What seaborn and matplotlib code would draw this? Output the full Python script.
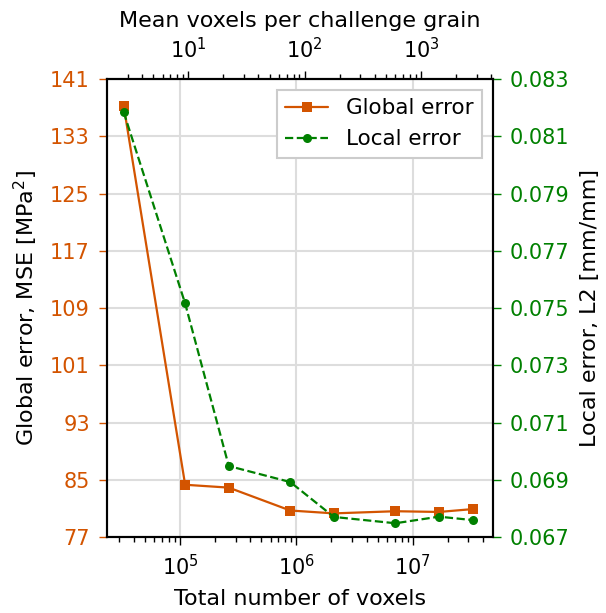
import numpy as np
import pandas as pd
import matplotlib
matplotlib.use("Agg")
import matplotlib.pyplot as plt
import seaborn as sns

total_voxels = [32768, 110592, 262144, 884736, 2097152, 7077888, 16777216, 32768000]
global_error = [137.3, 84.3, 83.9, 80.7, 80.3, 80.6, 80.5, 80.9]
local_error = [0.08185, 0.07516, 0.06948, 0.06892, 0.0677, 0.06748, 0.06771, 0.06759]
n_grains = 11800

left_ticks = [77, 85, 93, 101, 109, 117, 125, 133, 141]
right_ticks = [0.067, 0.069, 0.071, 0.073, 0.075, 0.077, 0.079, 0.081, 0.083]
top_ticks = [10, 100, 1000]

orange = "#d35400"
green = "#008000"

sns.set_theme(style="whitegrid")
plt.rcParams['font.family'] = ['DejaVu Sans']
plt.rcParams['text.color'] = 'black'
plt.rcParams['axes.labelcolor'] = 'black'
plt.rcParams['xtick.color'] = 'black'
plt.rcParams['ytick.color'] = 'black'

FS = 15
LFS = 16
PAD = 6.5
LPAD = 7

df = pd.DataFrame({"voxels": total_voxels, "glob": global_error, "loc": local_error})

fig = plt.figure(figsize=(6.06, 6.13), dpi=100)
ax = fig.add_axes([0.177, 0.124, 0.636, 0.747])
ax2 = ax.twinx()

sns.lineplot(data=df, x="voxels", y="glob", ax=ax, color=orange, marker="s",
             markersize=6.5, markeredgewidth=0, linewidth=1.6, label="Global error", legend=False)
sns.lineplot(data=df, x="voxels", y="loc", ax=ax2, color=green, marker="o",
             markersize=6.5, markeredgewidth=0, linewidth=1.6, linestyle="--", label="Local error", legend=False)

ax.set_xscale("log")
ax.set_xlim(2.37e4, 4.85e7)
ax.set_ylim(77, 141)
ax2.set_ylim(0.067, 0.083)
ax.set_yticks(left_ticks)
ax.set_yticklabels([str(t) for t in left_ticks])
ax2.set_yticks(right_ticks)
ax2.set_yticklabels([f"{t:.3f}" for t in right_ticks])

ax.grid(True, which="major", color="#dddddd", linewidth=1.5)
ax.grid(False, which="minor")
ax2.grid(False)

for a in (ax, ax2):
    for s in a.spines.values():
        s.set_color("black")
        s.set_linewidth(1.5)

ax.tick_params(axis="y", colors=orange, labelsize=FS, length=6, width=1, direction="out", left=True, pad=PAD)
ax.tick_params(axis="x", labelsize=FS, length=6, width=1, direction="out", bottom=True, which="major", colors="black", pad=PAD)
ax.tick_params(axis="x", which="minor", length=3.5, width=1, bottom=True, colors="black")
ax2.tick_params(axis="y", colors=green, labelsize=FS, length=6, width=1, direction="out", right=True, pad=PAD)

ax.set_xlabel("Total number of voxels", fontsize=LFS, color="black", labelpad=LPAD)
ax.set_ylabel("Global error, MSE [MPa$^2$]", fontsize=LFS, color="black", labelpad=LPAD)
ax2.set_ylabel("Local error, L2 [mm/mm]", fontsize=LFS, color="black", labelpad=LPAD)

secax = ax.secondary_xaxis("top", functions=(lambda x: x / n_grains, lambda x: x * n_grains))
secax.set_xticks(top_ticks)
secax.set_xlabel("Mean voxels per challenge grain", fontsize=LFS, color="black", labelpad=LPAD)
secax.tick_params(axis="x", labelsize=FS, length=6, width=1, direction="out", which="major", colors="black", pad=PAD)
secax.tick_params(axis="x", which="minor", length=3.5, width=1, colors="black")
secax.spines["top"].set_linewidth(1.5)

h1, l1 = ax.get_legend_handles_labels()
h2, l2 = ax2.get_legend_handles_labels()
leg = ax2.legend(h1 + h2, l1 + l2, loc="upper right", fontsize=15.5, fancybox=False,
                 framealpha=1, edgecolor="#cccccc", borderaxespad=0.5)
leg.get_frame().set_linewidth(1.5)

fig.savefig("out.png", dpi=100)
